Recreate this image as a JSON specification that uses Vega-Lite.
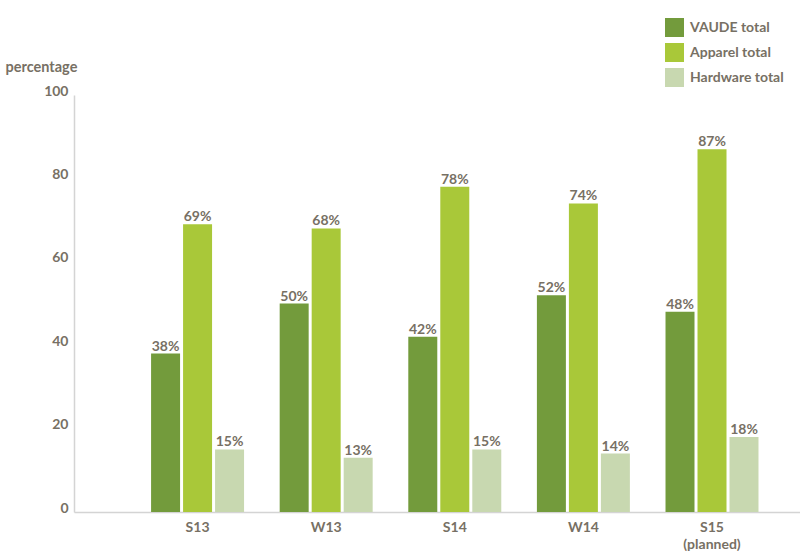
{
  "$schema": "https://vega.github.io/schema/vega-lite/v6.json",
  "width": 726,
  "height": 417,
  "autosize": {"type": "none"},
  "padding": {"left": 74, "top": 95, "right": 0, "bottom": 39},
  "background": "white",
  "config": {
    "view": {"stroke": null},
    "font": "Lato",
    "text": {"font": "Lato"}
  },
  "data": {
    "values": [
      {"season": "S13", "series": "VAUDE total", "value": 38, "pct": "38%"},
      {"season": "S13", "series": "Apparel total", "value": 69, "pct": "69%"},
      {"season": "S13", "series": "Hardware total", "value": 15, "pct": "15%"},
      {"season": "W13", "series": "VAUDE total", "value": 50, "pct": "50%"},
      {"season": "W13", "series": "Apparel total", "value": 68, "pct": "68%"},
      {"season": "W13", "series": "Hardware total", "value": 13, "pct": "13%"},
      {"season": "S14", "series": "VAUDE total", "value": 42, "pct": "42%"},
      {"season": "S14", "series": "Apparel total", "value": 78, "pct": "78%"},
      {"season": "S14", "series": "Hardware total", "value": 15, "pct": "15%"},
      {"season": "W14", "series": "VAUDE total", "value": 52, "pct": "52%"},
      {"season": "W14", "series": "Apparel total", "value": 74, "pct": "74%"},
      {"season": "W14", "series": "Hardware total", "value": 14, "pct": "14%"},
      {"season": "S15", "series": "VAUDE total", "value": 48, "pct": "48%"},
      {"season": "S15", "series": "Apparel total", "value": 87, "pct": "87%"},
      {"season": "S15", "series": "Hardware total", "value": 18, "pct": "18%"}
    ]
  },
  "encoding": {
    "x": {
      "field": "season",
      "type": "nominal",
      "sort": ["S13", "W13", "S14", "W14", "S15"],
      "scale": {"paddingInner": 0.277, "paddingOuter": 0.461, "align": 0.65},
      "axis": {
        "title": null,
        "labelAngle": 0,
        "ticks": false,
        "grid": false,
        "domainColor": "#d4d4d4",
        "domainWidth": 1.5,
        "labelFont": "Lato",
        "labelFontWeight": "bold",
        "labelFontSize": 14,
        "labelColor": "#777064",
        "labelPadding": 8,
        "labelLineHeight": 17,
        "labelExpr": "datum.label == 'S15' ? ['S15', '(planned)'] : datum.label"
      }
    },
    "xOffset": {
      "field": "series",
      "sort": ["VAUDE total", "Apparel total", "Hardware total"],
      "scale": {"paddingInner": 0.094, "paddingOuter": 0}
    },
    "y": {
      "field": "value",
      "type": "quantitative",
      "scale": {"domain": [0, 100], "nice": false},
      "axis": {
        "title": "percentage",
        "titleAngle": 0,
        "titleAlign": "left",
        "titleBaseline": "alphabetic",
        "titleX": -69,
        "titleY": -24,
        "titleFont": "Lato",
        "titleFontWeight": "bold",
        "titleFontSize": 14.5,
        "titleColor": "#777064",
        "values": [0, 20, 40, 60, 80, 100],
        "ticks": false,
        "grid": false,
        "domainColor": "#d4d4d4",
        "domainWidth": 1.5,
        "labelFont": "Lato",
        "labelFontWeight": "bold",
        "labelFontSize": 14,
        "labelColor": "#777064",
        "labelPadding": 6,
        "labelOffset": -4
      }
    }
  },
  "layer": [
    {
      "mark": {"type": "bar"},
      "encoding": {
        "color": {
          "field": "series",
          "type": "nominal",
          "sort": ["VAUDE total", "Apparel total", "Hardware total"],
          "scale": {
            "domain": ["VAUDE total", "Apparel total", "Hardware total"],
            "range": ["#739b3c", "#a9c839", "#c8d8b0"]
          },
          "legend": {
            "title": null,
            "orient": "none",
            "legendX": 591,
            "legendY": -77,
            "symbolType": "square",
            "symbolSize": 361,
            "symbolStrokeWidth": 0,
            "symbolOpacity": 1,
            "labelFont": "Lato",
            "labelFontWeight": "bold",
            "labelFontSize": 14,
            "labelColor": "#777064",
            "labelOffset": 6,
            "rowPadding": 6,
            "padding": 0
          }
        }
      }
    },
    {
      "mark": {
        "type": "text",
        "baseline": "alphabetic",
        "dy": -3,
        "font": "Lato",
        "fontWeight": "bold",
        "fontSize": 14,
        "color": "#777064"
      },
      "encoding": {
        "text": {"field": "pct", "type": "nominal"}
      }
    }
  ]
}
